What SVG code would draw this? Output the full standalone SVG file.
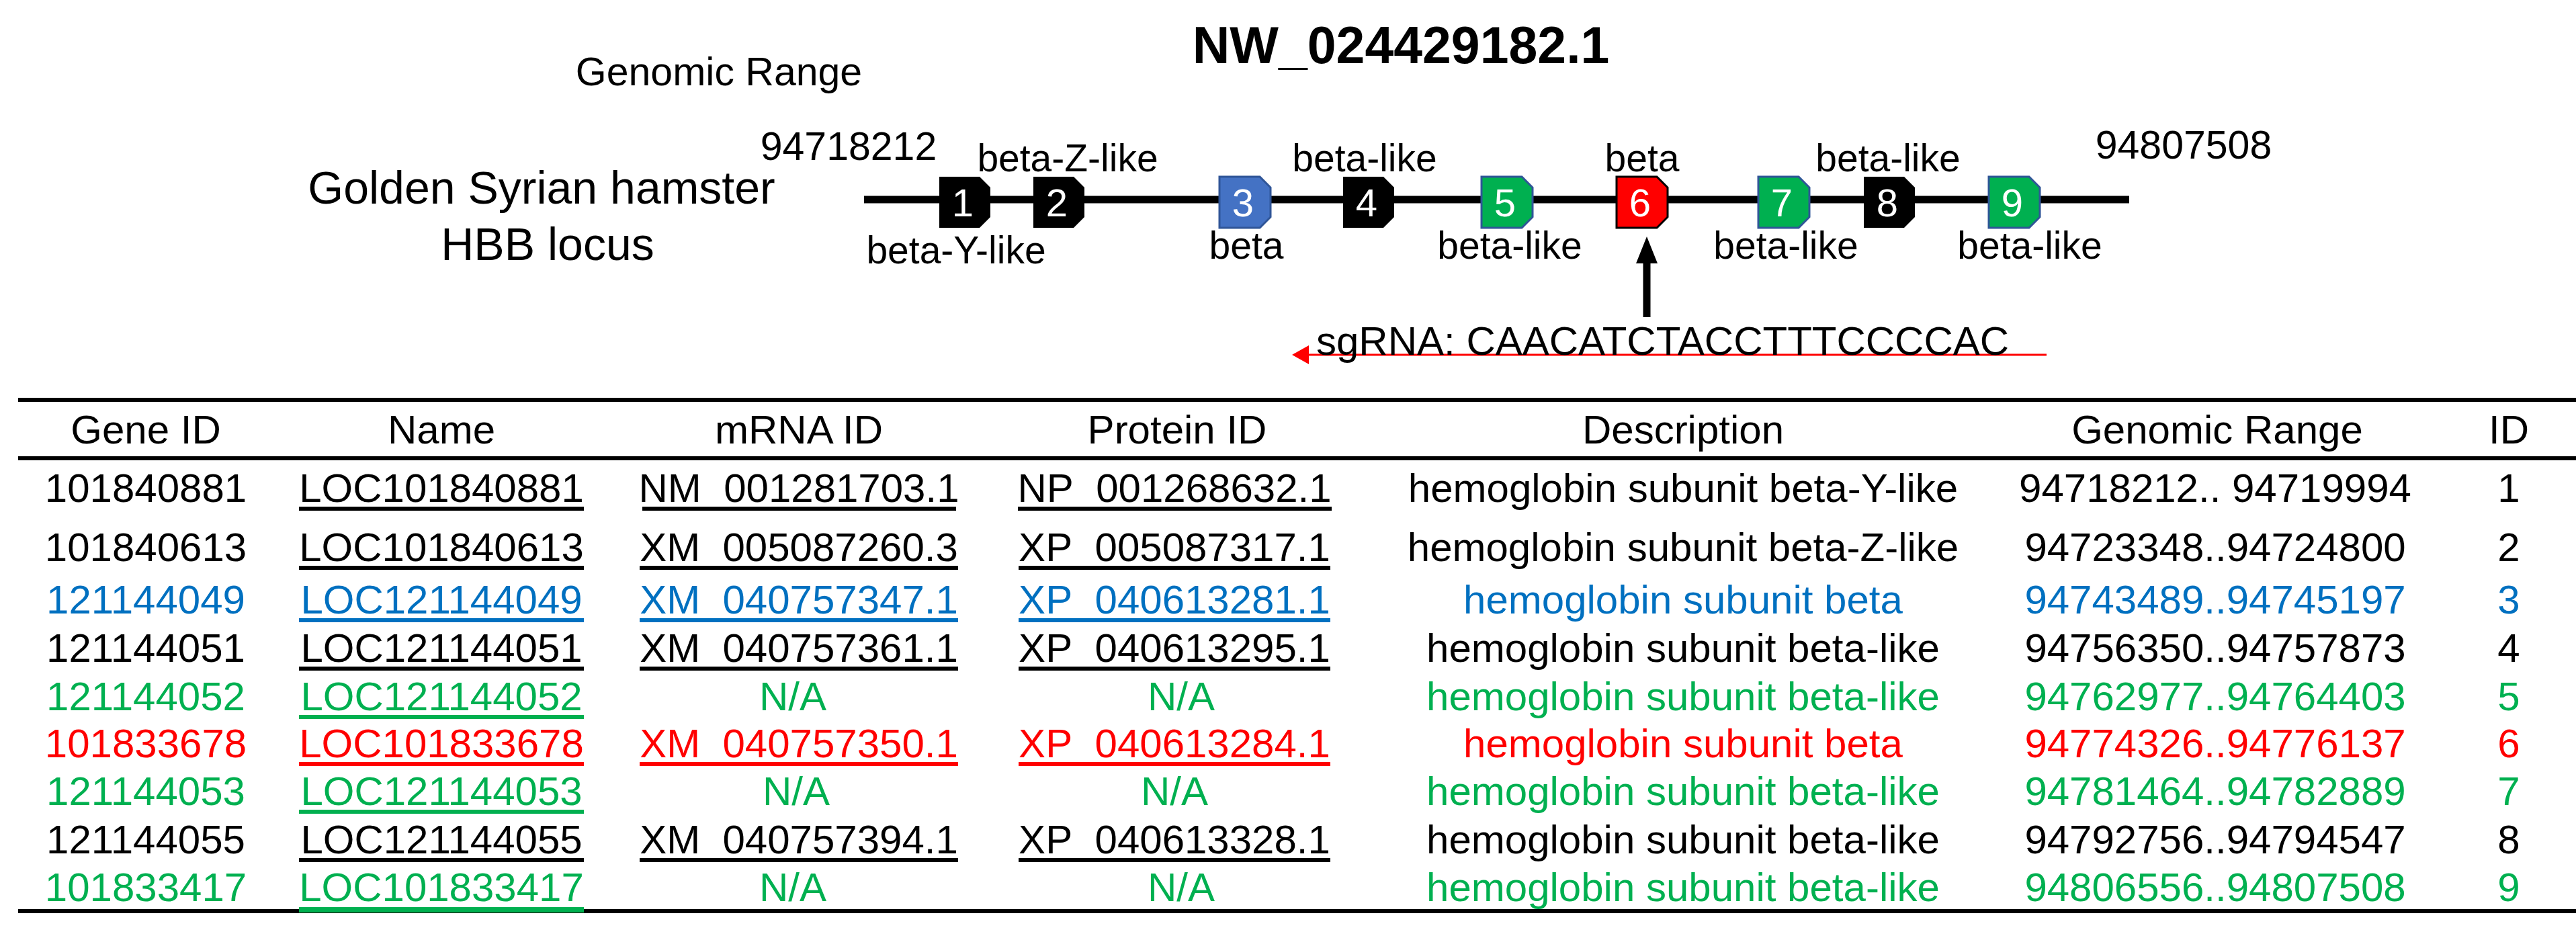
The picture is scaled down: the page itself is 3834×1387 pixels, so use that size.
<svg xmlns="http://www.w3.org/2000/svg" width="3834" height="1387" viewBox="0 0 3834 1387">
<style>
text{font-family:"Liberation Sans",Arial,sans-serif;}
.t{font-size:60px;text-anchor:middle;}
.lbl{font-size:57px;text-anchor:middle;fill:#000;}
.num{font-size:58px;text-anchor:middle;fill:#fff;}
.k{fill:#000}.b{fill:#0070C0}.g{fill:#00B050}.r{fill:#FF0000}
</style>
<rect width="3834" height="1387" fill="#fff"/>
<text x="2085" y="94" style="font-size:77px;font-weight:bold;text-anchor:middle">NW_024429182.1</text>
<text x="1070" y="127" style="font-size:59px;text-anchor:middle">Genomic Range</text>
<text x="1263" y="238" style="font-size:59px;text-anchor:middle">94718212</text>
<text x="3250" y="236" style="font-size:59px;text-anchor:middle">94807508</text>
<text x="806" y="303" style="font-size:68px;text-anchor:middle">Golden Syrian hamster</text>
<text x="815" y="387" style="font-size:68px;text-anchor:middle">HBB locus</text>
<g id="connectors">
<line x1="1286" y1="297" x2="3169" y2="297" stroke="#000" stroke-width="11"/>
<line x1="2451" y1="472" x2="2451" y2="390" stroke="#000" stroke-width="11"/>
<path d="M2435,392 L2451,352 L2467,392 z" fill="#000"/>
<line x1="3046" y1="528" x2="1945" y2="528" stroke="#FF0000" stroke-width="3"/>
<path d="M1948,514 L1923,528 L1948,542 z" fill="#FF0000"/>
</g>
<g id="genes">
<g id="g1"><path d="M1398,263 H1458 L1474,279 V323 L1458,339 H1398 z" fill="#000"/><text class="num" x="1433" y="322">1</text></g>
<g id="g2"><path d="M1538,263 H1598 L1614,279 V323 L1598,339 H1538 z" fill="#000"/><text class="num" x="1573" y="322">2</text></g>
<g id="g3"><path d="M1815,263 H1875 L1891,279 V323 L1875,339 H1815 z" fill="#4472C4" stroke="#2F5597" stroke-width="3"/><text class="num" x="1850" y="322">3</text></g>
<g id="g4"><path d="M1999,263 H2059 L2075,279 V323 L2059,339 H1999 z" fill="#000"/><text class="num" x="2034" y="322">4</text></g>
<g id="g5"><path d="M2205,263 H2265 L2281,279 V323 L2265,339 H2205 z" fill="#00B050" stroke="#2F5597" stroke-width="3"/><text class="num" x="2240" y="322">5</text></g>
<g id="g6"><path d="M2406,263 H2466 L2482,279 V323 L2466,339 H2406 z" fill="#FF0000" stroke="#000" stroke-width="3"/><text class="num" x="2441" y="322">6</text></g>
<g id="g7"><path d="M2617,263 H2677 L2693,279 V323 L2677,339 H2617 z" fill="#00B050" stroke="#2F5597" stroke-width="3"/><text class="num" x="2652" y="322">7</text></g>
<g id="g8"><path d="M2774,263 H2834 L2850,279 V323 L2834,339 H2774 z" fill="#000"/><text class="num" x="2809" y="322">8</text></g>
<g id="g9"><path d="M2960,263 H3020 L3036,279 V323 L3020,339 H2960 z" fill="#00B050" stroke="#2F5597" stroke-width="3"/><text class="num" x="2995" y="322">9</text></g>
</g>
<g id="gene-labels">
<text class="lbl" x="1589" y="255">beta-Z-like</text>
<text class="lbl" x="2031" y="255">beta-like</text>
<text class="lbl" x="2444" y="255">beta</text>
<text class="lbl" x="2810" y="255">beta-like</text>
<text class="lbl" x="1423" y="392">beta-Y-like</text>
<text class="lbl" x="1855" y="385">beta</text>
<text class="lbl" x="2247" y="385">beta-like</text>
<text class="lbl" x="2658" y="385">beta-like</text>
<text class="lbl" x="3021" y="385">beta-like</text>
</g>
<text x="1959" y="528" style="font-size:60px">sgRNA: CAACATCTACCTTTCCCCAC</text>
<g id="table">
<rect x="27" y="592" width="3807" height="6" fill="#000"/>
<rect x="27" y="679" width="3807" height="6" fill="#000"/>
<rect x="27" y="1353" width="3807" height="6" fill="#000"/>
<g class="k">
<text class="t" x="217" y="660">Gene ID</text>
<text class="t" x="657" y="660">Name</text>
<text class="t" x="1189" y="660">mRNA ID</text>
<text class="t" x="1752" y="660">Protein ID</text>
<text class="t" x="2505" y="660">Description</text>
<text class="t" x="3300" y="660">Genomic Range</text>
<text class="t" x="3734" y="660">ID</text>
</g>
<g id="row1" class="k">
<text class="t" x="217" y="747">101840881</text>
<text class="t" x="657" y="747">LOC101840881</text><rect x="445" y="754" width="424" height="6"/>
<text class="t" x="1189" y="747">NM_001281703.1</text><rect x="956" y="754" width="467" height="6"/>
<text class="t" x="1748" y="747">NP_001268632.1</text><rect x="1515" y="754" width="467" height="6"/>
<text class="t" x="2505" y="747">hemoglobin subunit beta-Y-like</text>
<text class="t" x="3297" y="747">94718212.. 94719994</text>
<text class="t" x="3734" y="747">1</text>
</g>
<g id="row2" class="k">
<text class="t" x="217" y="835">101840613</text>
<text class="t" x="657" y="835">LOC101840613</text><rect x="445" y="842" width="424" height="6"/>
<text class="t" x="1189" y="835">XM_005087260.3</text><rect x="952" y="842" width="474" height="6"/>
<text class="t" x="1748" y="835">XP_005087317.1</text><rect x="1516" y="842" width="464" height="6"/>
<text class="t" x="2505" y="835">hemoglobin subunit beta-Z-like</text>
<text class="t" x="3297" y="835">94723348..94724800</text>
<text class="t" x="3734" y="835">2</text>
</g>
<g id="row3" class="b">
<text class="t" x="217" y="913">121144049</text>
<text class="t" x="657" y="913">LOC121144049</text><rect x="445" y="920" width="424" height="6"/>
<text class="t" x="1189" y="913">XM_040757347.1</text><rect x="952" y="920" width="474" height="6"/>
<text class="t" x="1748" y="913">XP_040613281.1</text><rect x="1516" y="920" width="464" height="6"/>
<text class="t" x="2505" y="913">hemoglobin subunit beta</text>
<text class="t" x="3297" y="913">94743489..94745197</text>
<text class="t" x="3734" y="913">3</text>
</g>
<g id="row4" class="k">
<text class="t" x="217" y="985">121144051</text>
<text class="t" x="657" y="985">LOC121144051</text><rect x="445" y="992" width="424" height="6"/>
<text class="t" x="1189" y="985">XM_040757361.1</text><rect x="952" y="992" width="474" height="6"/>
<text class="t" x="1748" y="985">XP_040613295.1</text><rect x="1516" y="992" width="464" height="6"/>
<text class="t" x="2505" y="985">hemoglobin subunit beta-like</text>
<text class="t" x="3297" y="985">94756350..94757873</text>
<text class="t" x="3734" y="985">4</text>
</g>
<g id="row5" class="g">
<text class="t" x="217" y="1057">121144052</text>
<text class="t" x="657" y="1057">LOC121144052</text><rect x="445" y="1064" width="424" height="6"/>
<text class="t" x="1180" y="1057">N/A</text>
<text class="t" x="1758" y="1057">N/A</text>
<text class="t" x="2505" y="1057">hemoglobin subunit beta-like</text>
<text class="t" x="3297" y="1057">94762977..94764403</text>
<text class="t" x="3734" y="1057">5</text>
</g>
<g id="row6" class="r">
<text class="t" x="217" y="1127">101833678</text>
<text class="t" x="657" y="1127">LOC101833678</text><rect x="445" y="1134" width="424" height="6"/>
<text class="t" x="1189" y="1127">XM_040757350.1</text><rect x="952" y="1134" width="474" height="6"/>
<text class="t" x="1748" y="1127">XP_040613284.1</text><rect x="1516" y="1134" width="464" height="6"/>
<text class="t" x="2505" y="1127">hemoglobin subunit beta</text>
<text class="t" x="3297" y="1127">94774326..94776137</text>
<text class="t" x="3734" y="1127">6</text>
</g>
<g id="row7" class="g">
<text class="t" x="217" y="1198">121144053</text>
<text class="t" x="657" y="1198">LOC121144053</text><rect x="445" y="1205" width="424" height="6"/>
<text class="t" x="1185" y="1198">N/A</text>
<text class="t" x="1748" y="1198">N/A</text>
<text class="t" x="2505" y="1198">hemoglobin subunit beta-like</text>
<text class="t" x="3297" y="1198">94781464..94782889</text>
<text class="t" x="3734" y="1198">7</text>
</g>
<g id="row8" class="k">
<text class="t" x="217" y="1270">121144055</text>
<text class="t" x="657" y="1270">LOC121144055</text><rect x="445" y="1277" width="424" height="6"/>
<text class="t" x="1189" y="1270">XM_040757394.1</text><rect x="952" y="1277" width="474" height="6"/>
<text class="t" x="1748" y="1270">XP_040613328.1</text><rect x="1516" y="1277" width="464" height="6"/>
<text class="t" x="2505" y="1270">hemoglobin subunit beta-like</text>
<text class="t" x="3297" y="1270">94792756..94794547</text>
<text class="t" x="3734" y="1270">8</text>
</g>
<g id="row9" class="g">
<text class="t" x="217" y="1341">101833417</text>
<text class="t" x="657" y="1341">LOC101833417</text><rect x="445" y="1350" width="424" height="8"/>
<text class="t" x="1180" y="1341">N/A</text>
<text class="t" x="1758" y="1341">N/A</text>
<text class="t" x="2505" y="1341">hemoglobin subunit beta-like</text>
<text class="t" x="3297" y="1341">94806556..94807508</text>
<text class="t" x="3734" y="1341">9</text>
</g>
</g>
</svg>
